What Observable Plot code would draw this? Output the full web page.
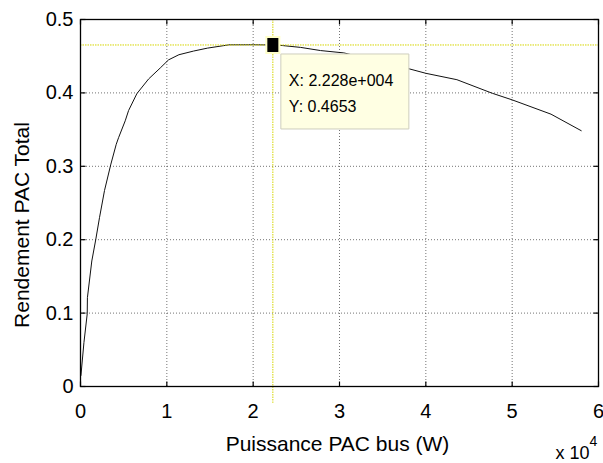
<!DOCTYPE html>
<html><head><meta charset="utf-8">
<script src="https://cdn.jsdelivr.net/npm/d3@7"></script>
<script src="https://cdn.jsdelivr.net/npm/@observablehq/plot@0.6"></script>
<style>html,body{margin:0;padding:0;background:#fff} svg{display:block}</style>
</head><body><div id="chart"></div>
<script>
// Puissance PAC bus, in units of 10^4 W
const powerX = [0.005, 0.04, 0.078, 0.08, 0.131, 0.178, 0.22, 0.278, 0.352, 0.414, 0.441, 0.518, 0.557, 0.653, 0.789, 0.924, 1.02, 1.14, 1.31, 1.47, 1.72, 2.0, 2.228, 2.34, 2.55, 2.78, 3.05, 3.3, 3.55, 3.81, 4.0, 4.36, 4.77, 5.0, 5.45, 5.8];
// Rendement PAC Total
const efficiency = [0.015, 0.06, 0.099, 0.121, 0.171, 0.201, 0.23, 0.267, 0.303, 0.33, 0.339, 0.362, 0.376, 0.399, 0.419, 0.434, 0.445, 0.452, 0.457, 0.461, 0.4655, 0.4656, 0.4653, 0.4645, 0.462, 0.4577, 0.4545, 0.4475, 0.4405, 0.4327, 0.4267, 0.418, 0.3995, 0.3905, 0.371, 0.3485];
const xTicks = [0, 1, 2, 3, 4, 5, 6];
const yTicks = [0, 0.1, 0.2, 0.3, 0.4, 0.5];
const cursorX = 2.228;
const cursorY = 0.4653;
const cursorText = "X: 2.228e+004\nY: 0.4653";
const cursorBottom = -0.023;

const data = powerX.map((x, i) => ({x, y: efficiency[i]}));

const tickUp = {draw(c){ c.moveTo(0,0); c.lineTo(0,-5); }};
const tickDown = {draw(c){ c.moveTo(0,0); c.lineTo(0,5); }};
const tickRight = {draw(c){ c.moveTo(0,0); c.lineTo(5,0); }};
const tickLeft = {draw(c){ c.moveTo(0,0); c.lineTo(-5,0); }};
const boxSym = {draw(c){ c.rect(8, 9, 128, 75); }};
const markerSym = {draw(c){ c.rect(-6.5, -8, 13, 16); }};

const chart = Plot.plot({
  width: 603,
  height: 463,
  marginLeft: 80,
  marginRight: 5,
  marginTop: 19,
  marginBottom: 77,
  style: {fontFamily: "'Liberation Sans', Arial, sans-serif", fontSize: "20px", color: "#000", background: "#fff"},
  x: {domain: [0, 6]},
  y: {domain: [0, 0.5]},
  marks: [
    Plot.gridX({ticks: xTicks, stroke: "#000", strokeOpacity: 0.55, strokeDasharray: "1,2"}),
    Plot.gridY({ticks: yTicks, stroke: "#000", strokeOpacity: 0.55, strokeDasharray: "1,2"}),
    Plot.axisX({ticks: xTicks, tickSize: 0, tickPadding: 17, label: null, tickFormat: d => String(d)}),
    Plot.axisY({ticks: yTicks, tickSize: 0, tickPadding: 7, label: null, tickFormat: d => String(d)}),
    Plot.dot(xTicks, {x: d => d, y: () => 0, symbol: tickUp, fill: "none", stroke: "#000", strokeWidth: 1.2}),
    Plot.dot(xTicks, {x: d => d, y: () => 0.5, symbol: tickDown, fill: "none", stroke: "#000", strokeWidth: 1.2}),
    Plot.dot(yTicks, {x: () => 0, y: d => d, symbol: tickRight, fill: "none", stroke: "#000", strokeWidth: 1.2}),
    Plot.dot(yTicks, {x: () => 6, y: d => d, symbol: tickLeft, fill: "none", stroke: "#000", strokeWidth: 1.2}),
    Plot.line(data, {x: "x", y: "y", stroke: "#111", strokeWidth: 1}),
    Plot.ruleY([cursorY], {stroke: "#d6d600", strokeWidth: 1, strokeDasharray: "1.5,1"}),
    Plot.ruleX([cursorX], {y1: 0.5, y2: cursorBottom, stroke: "#d6d600", strokeWidth: 1, strokeDasharray: "1.5,1"}),
    Plot.dot([cursorY], {x: () => cursorX, y: d => d, symbol: markerSym, fill: "#000", stroke: "#ffffc8", strokeWidth: 2}),
    Plot.dot([cursorY], {x: () => cursorX, y: d => d, symbol: boxSym, fill: "#ffffe3", stroke: "#cfcfbd", strokeWidth: 1}),
    Plot.text([cursorText], {x: () => cursorX, y: () => cursorY, text: d => d, textAnchor: "start", lineAnchor: "bottom", lineHeight: 1.6, dx: 16, dy: 67, fontSize: 16, fill: "#000"}),
    Plot.frame({stroke: "#000", strokeWidth: 1.3}),
    Plot.text(["Puissance PAC bus (W)"], {frameAnchor: "bottom", text: d => d, textAnchor: "middle", lineAnchor: "bottom", dx: -2, dy: 64, fontSize: 21}),
    Plot.text(["Rendement PAC Total"], {frameAnchor: "left", text: d => d, textAnchor: "middle", rotate: -90, lineAnchor: "bottom", dx: -52, dy: 22, fontSize: 21}),
    Plot.text(["x 10"], {frameAnchor: "bottom-right", text: d => d, textAnchor: "end", lineAnchor: "bottom", dx: -9, dy: 72, fontSize: 18}),
    Plot.text(["4"], {frameAnchor: "bottom-right", text: d => d, textAnchor: "start", lineAnchor: "bottom", dx: -9, dy: 59, fontSize: 14})
  ]
});
document.getElementById("chart").append(chart);
</script>
</body></html>
